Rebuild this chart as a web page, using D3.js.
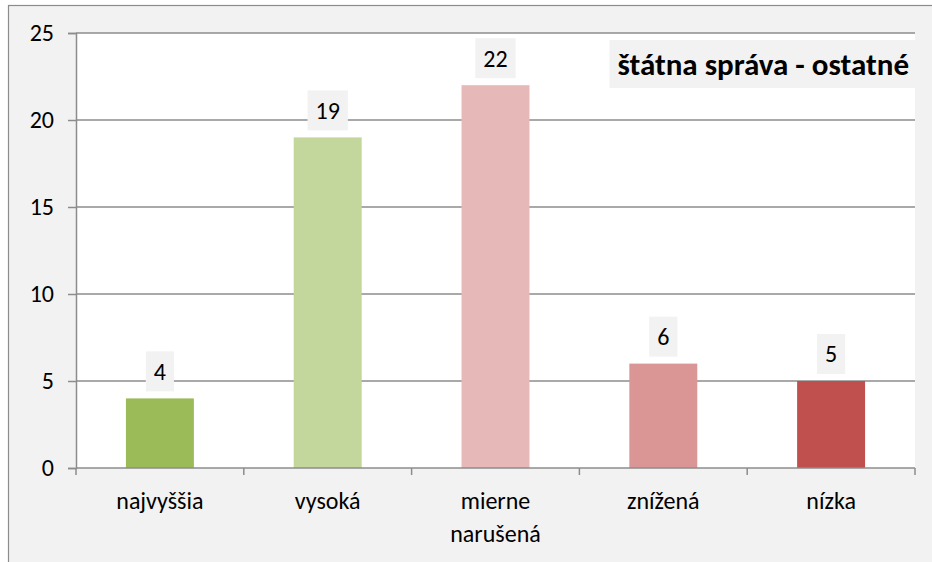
<!DOCTYPE html>
<html>
<head>
<meta charset="utf-8">
<script src="https://cdn.jsdelivr.net/npm/d3@7"></script>
<style>
  body { margin: 0; background: #fff; }
  svg { display: block; font-family: Carlito, "Open Sans", "Noto Sans", sans-serif; }
</style>
</head>
<body>
<div id="chart"></div>
<script>
var categories = [["najvyššia"], ["vysoká"], ["mierne", "narušená"], ["znížená"], ["nízka"]];
var values = [4, 19, 22, 6, 5];
var colors = ["#9bbb59", "#c3d69b", "#e6b9b8", "#d99694", "#c0504d"];
var yTicks = [0, 5, 10, 15, 20, 25];
var title = "štátna správa - ostatné";

var w = 932, h = 562;
var plotLeft = 76, plotRight = 915, plotTop = 33, plotBottom = 468;
var fs = 24;

var svg = d3.select("#chart").append("svg")
  .attr("width", w)
  .attr("height", h);

// chart area background and border
svg.append("rect")
  .attr("x", 8.5).attr("y", 5.5)
  .attr("width", w).attr("height", h)
  .attr("fill", "#f2f2f2")
  .attr("stroke", "#8c8c8c")
  .attr("stroke-width", 1.2);

svg.append("rect")
  .attr("x", plotLeft).attr("y", plotTop)
  .attr("width", plotRight - plotLeft).attr("height", plotBottom - plotTop)
  .attr("fill", "#fff");

var x = d3.scaleBand()
  .domain(d3.range(values.length))
  .range([plotLeft, plotRight])
  .padding(0);

var y = d3.scaleLinear()
  .domain([0, 25])
  .range([plotBottom, plotTop]);

// gridlines
svg.selectAll("line.grid")
  .data(yTicks.slice(1))
  .enter().append("line")
  .attr("class", "grid")
  .attr("x1", plotLeft).attr("x2", plotRight)
  .attr("y1", function(d) { return y(d); })
  .attr("y2", function(d) { return y(d); })
  .attr("stroke", "#8c8c8c")
  .attr("stroke-width", 1.5);

// y axis
var yAxis = svg.append("g")
  .attr("transform", "translate(" + plotLeft + ",0)")
  .call(d3.axisLeft(y).tickValues(yTicks).tickSize(8).tickPadding(14));
yAxis.selectAll("text").attr("font-size", fs).attr("fill", "#000")
  .attr("font-family", "Carlito, 'Open Sans', 'Noto Sans', sans-serif");
yAxis.selectAll("line,path").attr("stroke", "#8c8c8c").attr("stroke-width", 1.5);

// bars
var barW = x.bandwidth() * 0.405;
svg.selectAll("rect.bar")
  .data(values)
  .enter().append("rect")
  .attr("class", "bar")
  .attr("x", function(d, i) { return x(i) + (x.bandwidth() - barW) / 2; })
  .attr("y", function(d) { return y(d); })
  .attr("width", barW)
  .attr("height", function(d) { return y(0) - y(d); })
  .attr("fill", function(d, i) { return colors[i]; });

// x axis line and ticks at category boundaries
svg.append("line")
  .attr("x1", plotLeft).attr("x2", plotRight)
  .attr("y1", plotBottom).attr("y2", plotBottom)
  .attr("stroke", "#8c8c8c").attr("stroke-width", 1.5);
var bounds = d3.range(values.length + 1).map(function(i) { return plotLeft + i * x.step(); });
svg.selectAll("line.xtick")
  .data(bounds)
  .enter().append("line")
  .attr("class", "xtick")
  .attr("x1", function(d) { return d; }).attr("x2", function(d) { return d; })
  .attr("y1", plotBottom).attr("y2", plotBottom + 7)
  .attr("stroke", "#8c8c8c").attr("stroke-width", 1.5);

// category labels
var cat = svg.selectAll("text.cat")
  .data(categories)
  .enter().append("text")
  .attr("class", "cat")
  .attr("text-anchor", "middle")
  .attr("font-size", fs)
  .attr("fill", "#000")
  .attr("x", function(d, i) { return x(i) + x.bandwidth() / 2; })
  .attr("y", 509);
cat.selectAll("tspan")
  .data(function(d) { return d; })
  .enter().append("tspan")
  .attr("x", function() { return d3.select(this.parentNode).attr("x"); })
  .attr("dy", function(d, i) { return i === 0 ? 0 : 33; })
  .text(function(d) { return d; });

// data labels with gray boxes
var lab = svg.selectAll("g.lab")
  .data(values)
  .enter().append("g")
  .attr("class", "lab")
  .attr("transform", function(d, i) {
    return "translate(" + (x(i) + x.bandwidth() / 2) + "," + (y(d) - 27) + ")";
  });
lab.append("text")
  .attr("text-anchor", "middle")
  .attr("dy", "0.35em")
  .attr("font-size", fs)
  .attr("fill", "#000")
  .text(function(d) { return d; });
lab.insert("rect", "text")
  .each(function() {
    var bb = this.parentNode.querySelector("text").getBBox();
    d3.select(this)
      .attr("x", bb.x - 8).attr("y", -20)
      .attr("width", bb.width + 16).attr("height", 40)
      .attr("fill", "#f2f2f2");
  });

// title box
var tg = svg.append("g");
var tt = tg.append("text")
  .attr("x", 909).attr("y", 64)
  .attr("dy", "0.35em")
  .attr("text-anchor", "end")
  .attr("font-size", 31)
  .attr("font-weight", "bold")
  .attr("fill", "#000")
  .text(title);
var tb = tt.node().getBBox();
tg.insert("rect", "text")
  .attr("x", tb.x - 8).attr("y", 40)
  .attr("width", plotRight - (tb.x - 8)).attr("height", 48)
  .attr("fill", "#f2f2f2");
</script>
</body>
</html>
